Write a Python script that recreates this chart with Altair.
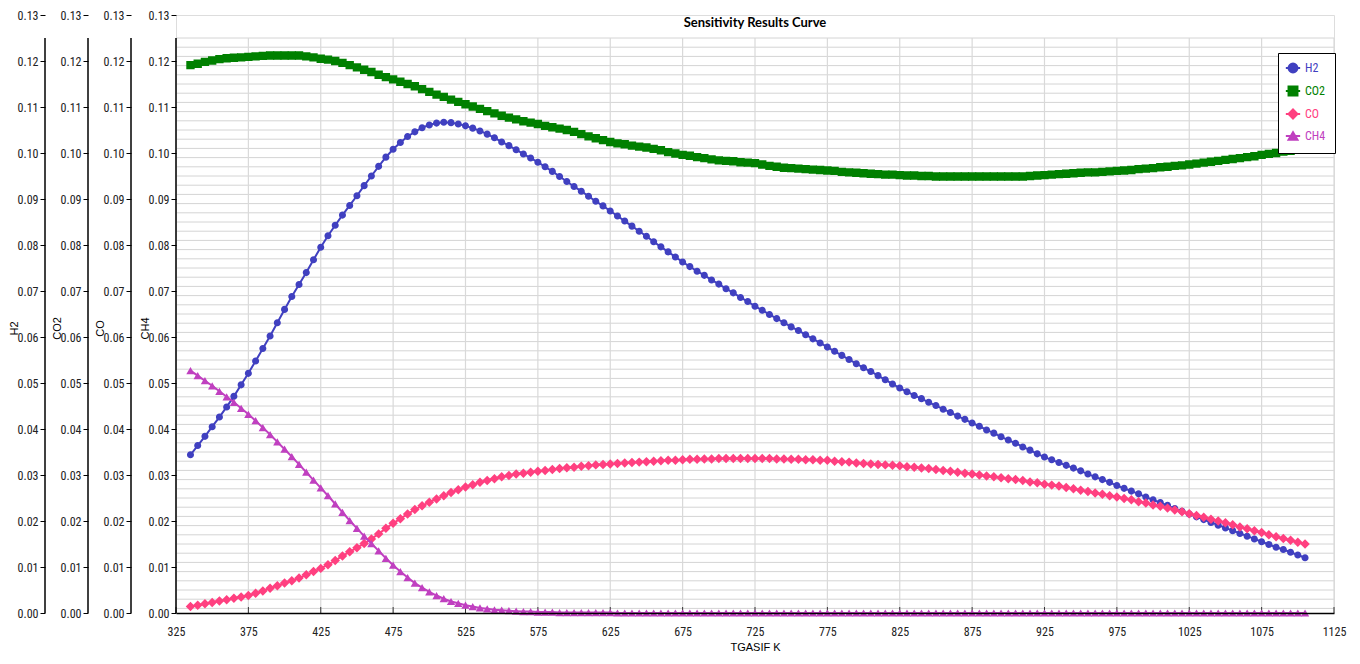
import altair as alt
import pandas as pd

title_text = "Sensitivity Results Curve"
x_title = "TGASIF K"
series_names = ["H2", "CO2", "CO", "CH4"]
series_colors = ["#4040c0", "#008000", "#ff4080", "#c040c0"]
# unit-box marker paths with a short line through them (line shows only in the legend)
series_shapes = [
    "M-1,0A1,1,0,1,1,1,0A1,1,0,1,1,-1,0Z M-1.6,0L1.6,0",
    "M-1,-1L1,-1L1,1L-1,1Z M-1.6,0L1.6,0",
    "M-1,0L0,-1L1,0L0,1Z M-1.6,0L1.6,0",
    "M0,-0.866L-1,0.866L1,0.866Z M-1.6,0L1.6,0",
]
series_sizes = [50, 70, 90, 70]
axis_offsets = [131, 88, 45, 0]

x_values = list(range(335, 1106, 5))

h2 = [
    0.0344, 0.0364, 0.0384, 0.0405, 0.0426, 0.0448, 0.0471, 0.0496, 0.0521, 0.0548,
    0.0575, 0.0602, 0.0631, 0.0660, 0.0688, 0.0714, 0.0740, 0.0768, 0.0795, 0.0820,
    0.0843, 0.0865, 0.0886, 0.0907, 0.0929, 0.0950, 0.0971, 0.0991, 0.1008, 0.1023,
    0.1036, 0.1046, 0.1055, 0.1061, 0.1065, 0.1067, 0.1066, 0.1063, 0.1059, 0.1054,
    0.1048, 0.1041, 0.1033, 0.1024, 0.1016, 0.1007, 0.0998, 0.0989, 0.0980, 0.0970,
    0.0960, 0.0949, 0.0938, 0.0927, 0.0917, 0.0906, 0.0895, 0.0885, 0.0874, 0.0863,
    0.0852, 0.0841, 0.0830, 0.0819, 0.0807, 0.0796, 0.0785, 0.0774, 0.0763, 0.0753,
    0.0743, 0.0734, 0.0724, 0.0715, 0.0705, 0.0696, 0.0686, 0.0677, 0.0667, 0.0658,
    0.0649, 0.0640, 0.0631, 0.0622, 0.0614, 0.0605, 0.0596, 0.0587, 0.0578, 0.0569,
    0.0560, 0.0551, 0.0542, 0.0533, 0.0525, 0.0516, 0.0507, 0.0498, 0.0489, 0.0481,
    0.0473, 0.0466, 0.0458, 0.0451, 0.0443, 0.0436, 0.0428, 0.0421, 0.0413, 0.0406,
    0.0398, 0.0391, 0.0383, 0.0376, 0.0369, 0.0361, 0.0354, 0.0346, 0.0339, 0.0333,
    0.0327, 0.0321, 0.0315, 0.0309, 0.0302, 0.0296, 0.0290, 0.0284, 0.0277, 0.0271,
    0.0265, 0.0259, 0.0252, 0.0246, 0.0240, 0.0234, 0.0227, 0.0221, 0.0215, 0.0209,
    0.0203, 0.0197, 0.0191, 0.0185, 0.0179, 0.0173, 0.0167, 0.0161, 0.0155, 0.0149,
    0.0143, 0.0138, 0.0132, 0.0126, 0.0120,
]

co2 = [
    0.1191, 0.1194, 0.1198, 0.1201, 0.1204, 0.1206, 0.1207, 0.1208, 0.1209, 0.1210,
    0.1211, 0.1212, 0.1212, 0.1212, 0.1212, 0.1212, 0.1210, 0.1208, 0.1205, 0.1203,
    0.1200, 0.1196, 0.1191, 0.1186, 0.1181, 0.1176, 0.1170, 0.1165, 0.1160, 0.1155,
    0.1150, 0.1145, 0.1139, 0.1133, 0.1127, 0.1122, 0.1116, 0.1111, 0.1106, 0.1101,
    0.1096, 0.1091, 0.1086, 0.1081, 0.1077, 0.1073, 0.1069, 0.1066, 0.1063, 0.1059,
    0.1056, 0.1053, 0.1050, 0.1046, 0.1041, 0.1036, 0.1032, 0.1028, 0.1024, 0.1021,
    0.1019, 0.1016, 0.1014, 0.1012, 0.1009, 0.1006, 0.1002, 0.0999, 0.0996, 0.0994,
    0.0991, 0.0989, 0.0986, 0.0984, 0.0983, 0.0982, 0.0980, 0.0979, 0.0978, 0.0975,
    0.0972, 0.0970, 0.0968, 0.0967, 0.0966, 0.0965, 0.0964, 0.0963, 0.0962, 0.0961,
    0.0959, 0.0958, 0.0957, 0.0956, 0.0955, 0.0954, 0.0953, 0.0953, 0.0952, 0.0951,
    0.0951, 0.0950, 0.0950, 0.0949, 0.0949, 0.0949, 0.0949, 0.0949, 0.0949, 0.0949,
    0.0949, 0.0949, 0.0949, 0.0949, 0.0949, 0.0949, 0.0950, 0.0951, 0.0952, 0.0953,
    0.0954, 0.0955, 0.0956, 0.0957, 0.0958, 0.0958, 0.0959, 0.0960, 0.0961, 0.0962,
    0.0963, 0.0965, 0.0966, 0.0967, 0.0969, 0.0970, 0.0972, 0.0973, 0.0975, 0.0977,
    0.0979, 0.0981, 0.0983, 0.0985, 0.0987, 0.0989, 0.0991, 0.0993, 0.0996, 0.0998,
    0.1000, 0.1003, 0.1005, 0.1008, 0.1011,
]

co = [
    0.0014, 0.0017, 0.0020, 0.0023, 0.0026, 0.0029, 0.0032, 0.0035, 0.0038, 0.0043,
    0.0048, 0.0054, 0.0059, 0.0065, 0.0070, 0.0076, 0.0083, 0.0090, 0.0097, 0.0105,
    0.0114, 0.0124, 0.0133, 0.0142, 0.0151, 0.0161, 0.0172, 0.0184, 0.0195, 0.0205,
    0.0215, 0.0225, 0.0233, 0.0241, 0.0248, 0.0255, 0.0262, 0.0268, 0.0274, 0.0279,
    0.0284, 0.0288, 0.0292, 0.0296, 0.0299, 0.0302, 0.0304, 0.0306, 0.0308, 0.0310,
    0.0312, 0.0314, 0.0316, 0.0317, 0.0319, 0.0320, 0.0322, 0.0323, 0.0324, 0.0325,
    0.0326, 0.0327, 0.0328, 0.0329, 0.0330, 0.0331, 0.0332, 0.0332, 0.0333, 0.0334,
    0.0334, 0.0335, 0.0335, 0.0336, 0.0336, 0.0336, 0.0336, 0.0336, 0.0336, 0.0336,
    0.0336, 0.0335, 0.0335, 0.0334, 0.0334, 0.0333, 0.0333, 0.0332, 0.0332, 0.0330,
    0.0329, 0.0328, 0.0326, 0.0325, 0.0324, 0.0323, 0.0322, 0.0321, 0.0320, 0.0318,
    0.0317, 0.0315, 0.0314, 0.0312, 0.0310, 0.0308, 0.0306, 0.0304, 0.0302, 0.0300,
    0.0298, 0.0296, 0.0294, 0.0292, 0.0290, 0.0288, 0.0285, 0.0283, 0.0280, 0.0278,
    0.0276, 0.0273, 0.0270, 0.0267, 0.0264, 0.0261, 0.0258, 0.0255, 0.0252, 0.0249,
    0.0246, 0.0242, 0.0239, 0.0235, 0.0232, 0.0228, 0.0224, 0.0220, 0.0216, 0.0212,
    0.0208, 0.0204, 0.0200, 0.0196, 0.0192, 0.0187, 0.0183, 0.0179, 0.0175, 0.0170,
    0.0166, 0.0162, 0.0158, 0.0154, 0.0150,
]

ch4 = [
    0.0527, 0.0516, 0.0505, 0.0494, 0.0482, 0.0470, 0.0458, 0.0445, 0.0432, 0.0418,
    0.0403, 0.0388, 0.0372, 0.0356, 0.0340, 0.0323, 0.0306, 0.0289, 0.0272, 0.0255,
    0.0237, 0.0219, 0.0201, 0.0184, 0.0167, 0.0151, 0.0135, 0.0119, 0.0104, 0.0090,
    0.0077, 0.0065, 0.0055, 0.0046, 0.0038, 0.0031, 0.0025, 0.0021, 0.0017, 0.0014,
    0.0011, 0.0009, 0.0007, 0.0006, 0.0005, 0.0004, 0.0003, 0.0003, 0.0002, 0.0002,
    0.0002, 0.0001, 0.0001, 0.0001, 0.0001, 0.0001, 0.0001, 0.0001, 0.0001, 0.0000,
    0.0000, 0.0000, 0.0000, 0.0000, 0.0000, 0.0000, 0.0000, 0.0000, 0.0000, 0.0000,
    0.0000, 0.0000, 0.0000, 0.0000, 0.0000, 0.0000, 0.0000, 0.0000, 0.0000, 0.0000,
    0.0000, 0.0000, 0.0000, 0.0000, 0.0000, 0.0000, 0.0000, 0.0000, 0.0000, 0.0000,
    0.0000, 0.0000, 0.0000, 0.0000, 0.0000, 0.0000, 0.0000, 0.0000, 0.0000, 0.0000,
    0.0000, 0.0000, 0.0000, 0.0000, 0.0000, 0.0000, 0.0000, 0.0000, 0.0000, 0.0000,
    0.0000, 0.0000, 0.0000, 0.0000, 0.0000, 0.0000, 0.0000, 0.0000, 0.0000, 0.0000,
    0.0000, 0.0000, 0.0000, 0.0000, 0.0000, 0.0000, 0.0000, 0.0000, 0.0000, 0.0000,
    0.0000, 0.0000, 0.0000, 0.0000, 0.0000, 0.0000, 0.0000, 0.0000, 0.0000, 0.0000,
    0.0000, 0.0000, 0.0000, 0.0000, 0.0000, 0.0000, 0.0000, 0.0000, 0.0000, 0.0000,
    0.0000, 0.0000, 0.0000, 0.0000, 0.0000,
]

x_ticks = [325, 375, 425, 475, 525, 575, 625, 675, 725, 775, 825, 875, 925, 975, 1025, 1075, 1125]
y_ticks = [0.00, 0.01, 0.02, 0.03, 0.04, 0.05, 0.06, 0.07, 0.08, 0.09, 0.10, 0.11, 0.12, 0.13]
grid_y = [round(0.001 + 0.002 * i, 3) for i in range(63)]  # 0.001 ... 0.125 (frame top)

series_values = [h2, co2, co, ch4]

label_font = "Liberation Sans Narrow, Roboto Condensed, Liberation Sans"
text_font = "Liberation Sans"

W, H = 1158, 598
x_scale = alt.Scale(domain=[x_ticks[0], x_ticks[-1]], nice=False, zero=False)
y_scale = alt.Scale(domain=[y_ticks[0], y_ticks[-1]], nice=False, zero=True)

x_axis = alt.Axis(
    title=x_title, values=x_ticks, format="d", grid=False, zindex=1,
    domainColor="#000000", domainWidth=1.5, tickSize=0,
    labelFont=label_font, labelFontSize=12, labelColor="#222222", labelPadding=13,
    labelFlush=False,
    titleFont=text_font, titleFontSize=11, titleFontWeight="normal",
    titleColor="#000000", titlePadding=4,
)


def y_axis(title, off):
    return alt.Axis(
        orient="left", offset=off, title=title, values=y_ticks, format=".2f",
        grid=False, domain=False, zindex=1,
        tickColor="#000000", tickSize=5, tickWidth=1,
        labelFont=label_font, labelFontSize=12, labelColor="#222222", labelPadding=2,
        titleFont=text_font, titleFontSize=11, titleFontWeight="normal",
        titleColor="#000000", titleX=-31, titleY=313, titleBaseline="middle",
    )


color_scale = alt.Scale(domain=series_names, range=series_colors)
shape_scale = alt.Scale(domain=series_names, range=series_shapes)

label_color_expr = " : ".join(
    f"datum.value === '{n}' ? '{c}'" for n, c in zip(series_names[:-1], series_colors[:-1])
) + f" : '{series_colors[-1]}'"

legend = alt.Legend(
    title=None, orient="none", legendX=W - 56, legendY=38,
    fillColor="#ffffff", strokeColor="#000000",
    padding=9, rowPadding=5, symbolSize=80, symbolStrokeWidth=2,
    labelFont=label_font, labelFontSize=12, labelOffset=6,
    labelColor={"expr": label_color_expr},
)

# grid / frame helpers
hgrid_df = pd.DataFrame({"y": grid_y, "x1": x_ticks[0], "x2": x_ticks[-1]})
vgrid_df = pd.DataFrame({"x": x_ticks, "y1": 0.0, "y2": grid_y[-1]})
tick_df = pd.DataFrame({"x": x_ticks, "y1": 0.0, "y2": 0.0013})
axis_line_df = pd.DataFrame({"px": [-o for o in axis_offsets], "y1": 0.0, "y2": grid_y[-1]})

hgrid = alt.Chart(hgrid_df).mark_rule(color="#d4d4d4", strokeWidth=1).encode(
    x=alt.X("x1:Q", scale=x_scale, axis=x_axis),
    x2="x2:Q",
    y=alt.Y("y:Q", scale=y_scale, axis=None),
)
vgrid = alt.Chart(vgrid_df).mark_rule(color="#d9d9d9", strokeWidth=1.2).encode(
    x=alt.X("x:Q", scale=x_scale, axis=x_axis),
    y=alt.Y("y1:Q", scale=y_scale, axis=None),
    y2="y2:Q",
)
xticks = alt.Chart(tick_df).mark_rule(color="#333333", strokeWidth=1).encode(
    x=alt.X("x:Q", scale=x_scale, axis=x_axis),
    y=alt.Y("y1:Q", scale=y_scale, axis=None),
    y2="y2:Q",
)
axis_lines = alt.Chart(axis_line_df).mark_rule(color="#000000", strokeWidth=1.5).encode(
    x=alt.X("px:Q", scale=None, axis=None),
    y=alt.Y("y1:Q", scale=y_scale, axis=None),
    y2="y2:Q",
)

layers = [hgrid, vgrid, xticks, axis_lines]
for name, vals, col, sz, off in zip(series_names, series_values, series_colors,
                                    series_sizes, axis_offsets):
    df = pd.DataFrame({"x": x_values, "value": vals, "series": name})
    base = alt.Chart(df).encode(
        x=alt.X("x:Q", scale=x_scale, axis=x_axis),
        y=alt.Y("value:Q", scale=y_scale, axis=y_axis(name, off)),
    )
    line = base.mark_line(color=col, strokeWidth=2)
    pts = base.mark_point(filled=True, size=sz, opacity=1, strokeWidth=0).encode(
        color=alt.Color("series:N", scale=color_scale, legend=legend),
        stroke=alt.Stroke("series:N", scale=color_scale, legend=legend),
        shape=alt.Shape("series:N", scale=shape_scale, legend=legend),
    )
    layers.append(alt.layer(line, pts))

chart = alt.layer(*layers).resolve_scale(y="independent").properties(
    width=W, height=H,
    autosize=alt.AutoSizeParams(type="none"),
    padding={"left": 168, "top": 7, "right": 16, "bottom": 40},
    title=alt.TitleParams(
        title_text, font="Lato", fontSize=13, fontWeight="bold", color="#000000",
        anchor="middle", frame="group", offset=-21,
    ),
).configure_view(stroke=None).configure(background="#ffffff")

chart.save("out.html", embed_options={"renderer": "svg", "actions": False})
